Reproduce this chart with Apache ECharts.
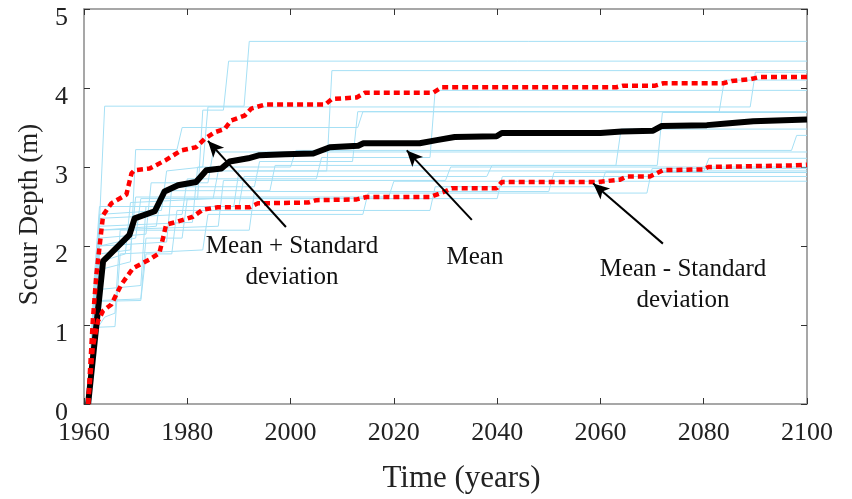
<!DOCTYPE html>
<html><head><meta charset="utf-8">
<script src="https://cdn.jsdelivr.net/npm/echarts@6/dist/echarts.min.js"></script>
<style>html,body{margin:0;padding:0;background:#fff}#c{width:852px;height:499px}</style>
</head><body><div id="c"></div>
<script>
// Axis ticks
const xTicks = [1960, 1980, 2000, 2020, 2040, 2060, 2080, 2100];
const yTicks = [0, 1, 2, 3, 4, 5];

// Individual realisations (light blue) [year, scour depth m]
const trace1 = [[1960.8,0],[1962,1.3],[1963,2.3],[1964,3.77],[1991,3.77],[1992,4.59],[2100,4.59]];
const trace2 = [[1960.8,0],[1962,1.1],[1963,2.0],[1970,2.1],[1971,2.6],[1982,2.6],[1983,3.72],[1987,3.72],[1988,4.34],[2100,4.34]];
const trace3 = [[1960.8,0],[1962,1.0],[1963,1.8],[1968,1.9],[1969,2.55],[1985,2.6],[1986,2.95],[2007,2.95],[2008,4.22],[2100,4.22]];
const trace4 = [[1960.8,0],[1962,1.4],[1963,2.4],[1975,2.45],[1976,2.95],[1983,3.0],[1984,3.76],[2089,3.76],[2090,4.2],[2100,4.2]];
const trace5 = [[1960.8,0],[1962,0.9],[1963,1.7],[1969,1.8],[1970,3.22],[1978,3.22],[1979,3.5],[2013,3.5],[2014,3.70],[2083,3.70],[2084,4.1],[2100,4.1]];
const trace6 = [[1960.8,0],[1962,1.2],[1963,2.2],[1974,2.25],[1975,2.7],[1996,2.7],[1997,3.02],[2071,3.02],[2072,3.69],[2100,3.69]];
const trace7 = [[1960.8,0],[1962,1.0],[1963,1.45],[1971,1.5],[1972,2.5],[1990,2.5],[1991,2.88],[2038,2.88],[2039,3.02],[2063,3.02],[2064,3.48],[2100,3.48]];
const trace8 = [[1960.8,0],[1962,1.5],[1963,2.25],[1981,2.3],[1982,3.0],[2000,3.0],[2001,3.21],[2097,3.21],[2098,3.40],[2100,3.40]];
const trace9 = [[1960.8,0],[1962,0.8],[1963,1.3],[1971,1.31],[1972,1.9],[1977,1.9],[1978,2.45],[2027,2.45],[2028,2.75],[2060,2.75],[2061,2.94],[2080,2.94],[2081,3.11],[2100,3.11]];
const trace10 = [[1960.8,0],[1962,1.3],[1963,2.2],[1986,2.25],[1987,2.83],[2030,2.83],[2031,3.0],[2100,3.0]];
const trace11 = [[1960.8,0],[1962,0.97],[1966,0.98],[1967,1.9],[1983,1.95],[1984,2.4],[2014,2.4],[2015,2.67],[2069,2.67],[2070,2.98],[2100,2.98]];
const trace12 = [[1960.8,0],[1962,1.6],[1963,2.5],[1989,2.5],[1990,2.95],[2100,2.95]];
const trace13 = [[1960.8,0],[1962,1.1],[1963,1.31],[1971,1.33],[1972,2.1],[1979,2.1],[1980,2.6],[2040,2.6],[2041,2.88],[2100,2.88]];
const trace14 = [[1960.8,0],[1962,1.2],[1963,1.9],[1969,1.95],[1970,2.62],[2019,2.62],[2020,2.82],[2100,2.82]];
const trace15 = [[1960.8,0],[1962,1.0],[1963,2.0],[1976,2.05],[1977,2.75],[1993,2.75],[1994,3.07],[2012,3.07],[2013,3.70],[2100,3.70]];
const trace16 = [[1960.8,0],[1962,1.3],[1963,2.35],[1979,2.4],[1980,2.85],[2005,2.85],[2006,3.12],[2027,3.12],[2028,3.97],[2100,3.97]];
const trace17 = [[1960.8,0],[1962,1.2],[1963,2.1],[1972,2.15],[1973,2.8],[1984,2.8],[1985,3.19],[2100,3.19]];
const trace18 = [[1960.8,0],[1962,0.9],[1964,1.1],[1966,1.15],[1967,2.2],[1992,2.2],[1993,2.69],[2050,2.69],[2051,2.93],[2100,2.93]];
const traces = [trace1,trace2,trace3,trace4,trace5,trace6,trace7,trace8,trace9,trace10,trace11,trace12,trace13,trace14,trace15,trace16,trace17,trace18];

// Mean
const meanData = [[1960.8,0],[1963.7,1.81],[1968.8,2.14],[1969.8,2.35],[1973.7,2.44],[1975.6,2.69],[1978.2,2.77],[1981.7,2.81],[1983.7,2.96],[1986.6,2.98],[1988.2,3.07],[1991.8,3.11],[1994,3.15],[1999,3.16],[2004.4,3.17],[2007.6,3.25],[2013.1,3.27],[2014.1,3.30],[2025,3.30],[2028.3,3.34],[2031.8,3.38],[2039.9,3.39],[2040.9,3.43],[2060,3.43],[2064.1,3.45],[2070.2,3.46],[2071.9,3.52],[2080.6,3.53],[2084.4,3.55],[2089.6,3.58],[2100,3.60]];
// Mean + standard deviation
const upperData = [[1960.8,0],[1961.7,1.05],[1962.4,1.64],[1963.7,2.39],[1965.3,2.54],[1968.2,2.65],[1969.2,2.92],[1969.8,2.96],[1972.7,2.98],[1975.9,3.09],[1978.8,3.21],[1981.7,3.25],[1983.4,3.36],[1985.3,3.44],[1987.2,3.48],[1988.5,3.59],[1991.1,3.65],[1992.4,3.74],[1995,3.79],[2006.7,3.79],[2008,3.86],[2012.8,3.88],[2014.4,3.94],[2027.6,3.94],[2029.3,4.01],[2063.1,4.01],[2064.4,4.03],[2070.6,4.03],[2072.2,4.06],[2083.8,4.06],[2085.4,4.09],[2089,4.11],[2090.9,4.14],[2100,4.14]];
// Mean - standard deviation
const lowerData = [[1960.8,0],[1961.7,0.72],[1962.7,1.05],[1963.7,1.18],[1965.3,1.26],[1967.2,1.51],[1969.5,1.72],[1972.7,1.83],[1974.6,1.91],[1975.3,2.10],[1975.9,2.27],[1978.2,2.31],[1981.1,2.37],[1983,2.46],[1985.9,2.49],[1992.1,2.49],[1993.7,2.54],[2003.4,2.55],[2005,2.58],[2012.8,2.59],[2014.7,2.62],[2027,2.62],[2029.9,2.69],[2031.2,2.73],[2039.9,2.73],[2040.9,2.81],[2059.6,2.81],[2063.8,2.84],[2065.1,2.88],[2069.6,2.88],[2071.2,2.93],[2072.2,2.96],[2079.9,2.97],[2080.9,3.0],[2097.4,3.02],[2100,3.03]];

// Annotation arrows: [tail, head] in data coordinates
const arrowLines = [
  [[1999.1,2.24],[1984.0,3.33]],
  [[2035.1,2.33],[2022.5,3.21]],
  [[2072.1,2.03],[2058.6,2.79]]
];
const annotations = [
  {text:'Mean + Standard\ndeviation', x:292, y:262},
  {text:'Mean', x:475, y:257},
  {text:'Mean - Standard\ndeviation', x:683, y:285}
];

const FONT = '"Liberation Serif","DejaVu Serif",serif';
const AXIS_GRAY = '#8a8a8a';
const chart = echarts.init(document.getElementById('c'), null, {renderer:'canvas'});

const series = traces.map(t => ({
  type:'line', data:t, showSymbol:false, symbol:'none', silent:true,
  xAxisIndex:0, yAxisIndex:0,
  lineStyle:{color:'#a6e0f5', width:1}, z:2, animation:false
}));
series.push({
  type:'line', data:meanData, showSymbol:false, symbol:'none',
  lineStyle:{color:'#000', width:6, join:'round'}, z:3, animation:false,
  markLine:{
    silent:true, symbol:['none','arrow'], symbolSize:[11,16], animation:false,
    label:{show:false},
    lineStyle:{color:'#000', width:2, type:'solid'},
    data: arrowLines.map(a => [{coord:a[0]},{coord:a[1]}])
  }
});
[upperData, lowerData].forEach(d => series.push({
  type:'line', data:d, showSymbol:false, symbol:'none',
  lineStyle:{color:'#ff0000', width:4.5, type:[6,4], cap:'butt'}, z:4, animation:false
}));

const axisCommonX = {
  type:'value', min:xTicks[0], max:xTicks[xTicks.length-1], interval:20,
  axisLine:{show:true, onZero:false, lineStyle:{color:AXIS_GRAY, width:1.5}},
  axisTick:{show:true, inside:true, length:6, lineStyle:{color:'#333'}},
  splitLine:{show:false}
};
const axisCommonY = {
  type:'value', min:yTicks[0], max:yTicks[yTicks.length-1], interval:1,
  axisLine:{show:true, onZero:false, lineStyle:{color:AXIS_GRAY, width:1.5}},
  axisTick:{show:true, inside:true, length:6, lineStyle:{color:'#333'}},
  splitLine:{show:false}
};

chart.setOption({
  animation:false,
  backgroundColor:'#fff',
  grid:{left:84, right:45, top:9, bottom:92, containLabel:false},
  xAxis:[
    Object.assign({}, axisCommonX, {
      position:'bottom',
      name:'Time (years)', nameLocation:'middle', nameGap:59,
      nameTextStyle:{fontFamily:FONT, fontSize:31, color:'#222', padding:[0,0,0,32]},
      axisLabel:{fontFamily:FONT, fontSize:26, color:'#222', margin:16, formatter: v => String(v)}
    }),
    Object.assign({}, axisCommonX, {position:'top', axisLabel:{show:false}})
  ],
  yAxis:[
    Object.assign({}, axisCommonY, {
      position:'left',
      name:'Scour Depth (m)', nameLocation:'middle', nameGap:41, nameRotate:90,
      nameTextStyle:{fontFamily:FONT, fontSize:27, color:'#222', padding:[0,16,0,0]},
      axisLabel:{fontFamily:FONT, fontSize:26, color:'#222', margin:16, verticalAlign:'top', lineHeight:18}
    }),
    Object.assign({}, axisCommonY, {position:'right', axisLabel:{show:false}})
  ],
  series: series,
  graphic: annotations.map(a => ({
    type:'text', x:a.x, y:a.y, z:100,
    style:{text:a.text, font:'25px '+FONT, fill:'#111', textAlign:'center', textVerticalAlign:'middle', lineHeight:31}
  }))
});
</script></body></html>
